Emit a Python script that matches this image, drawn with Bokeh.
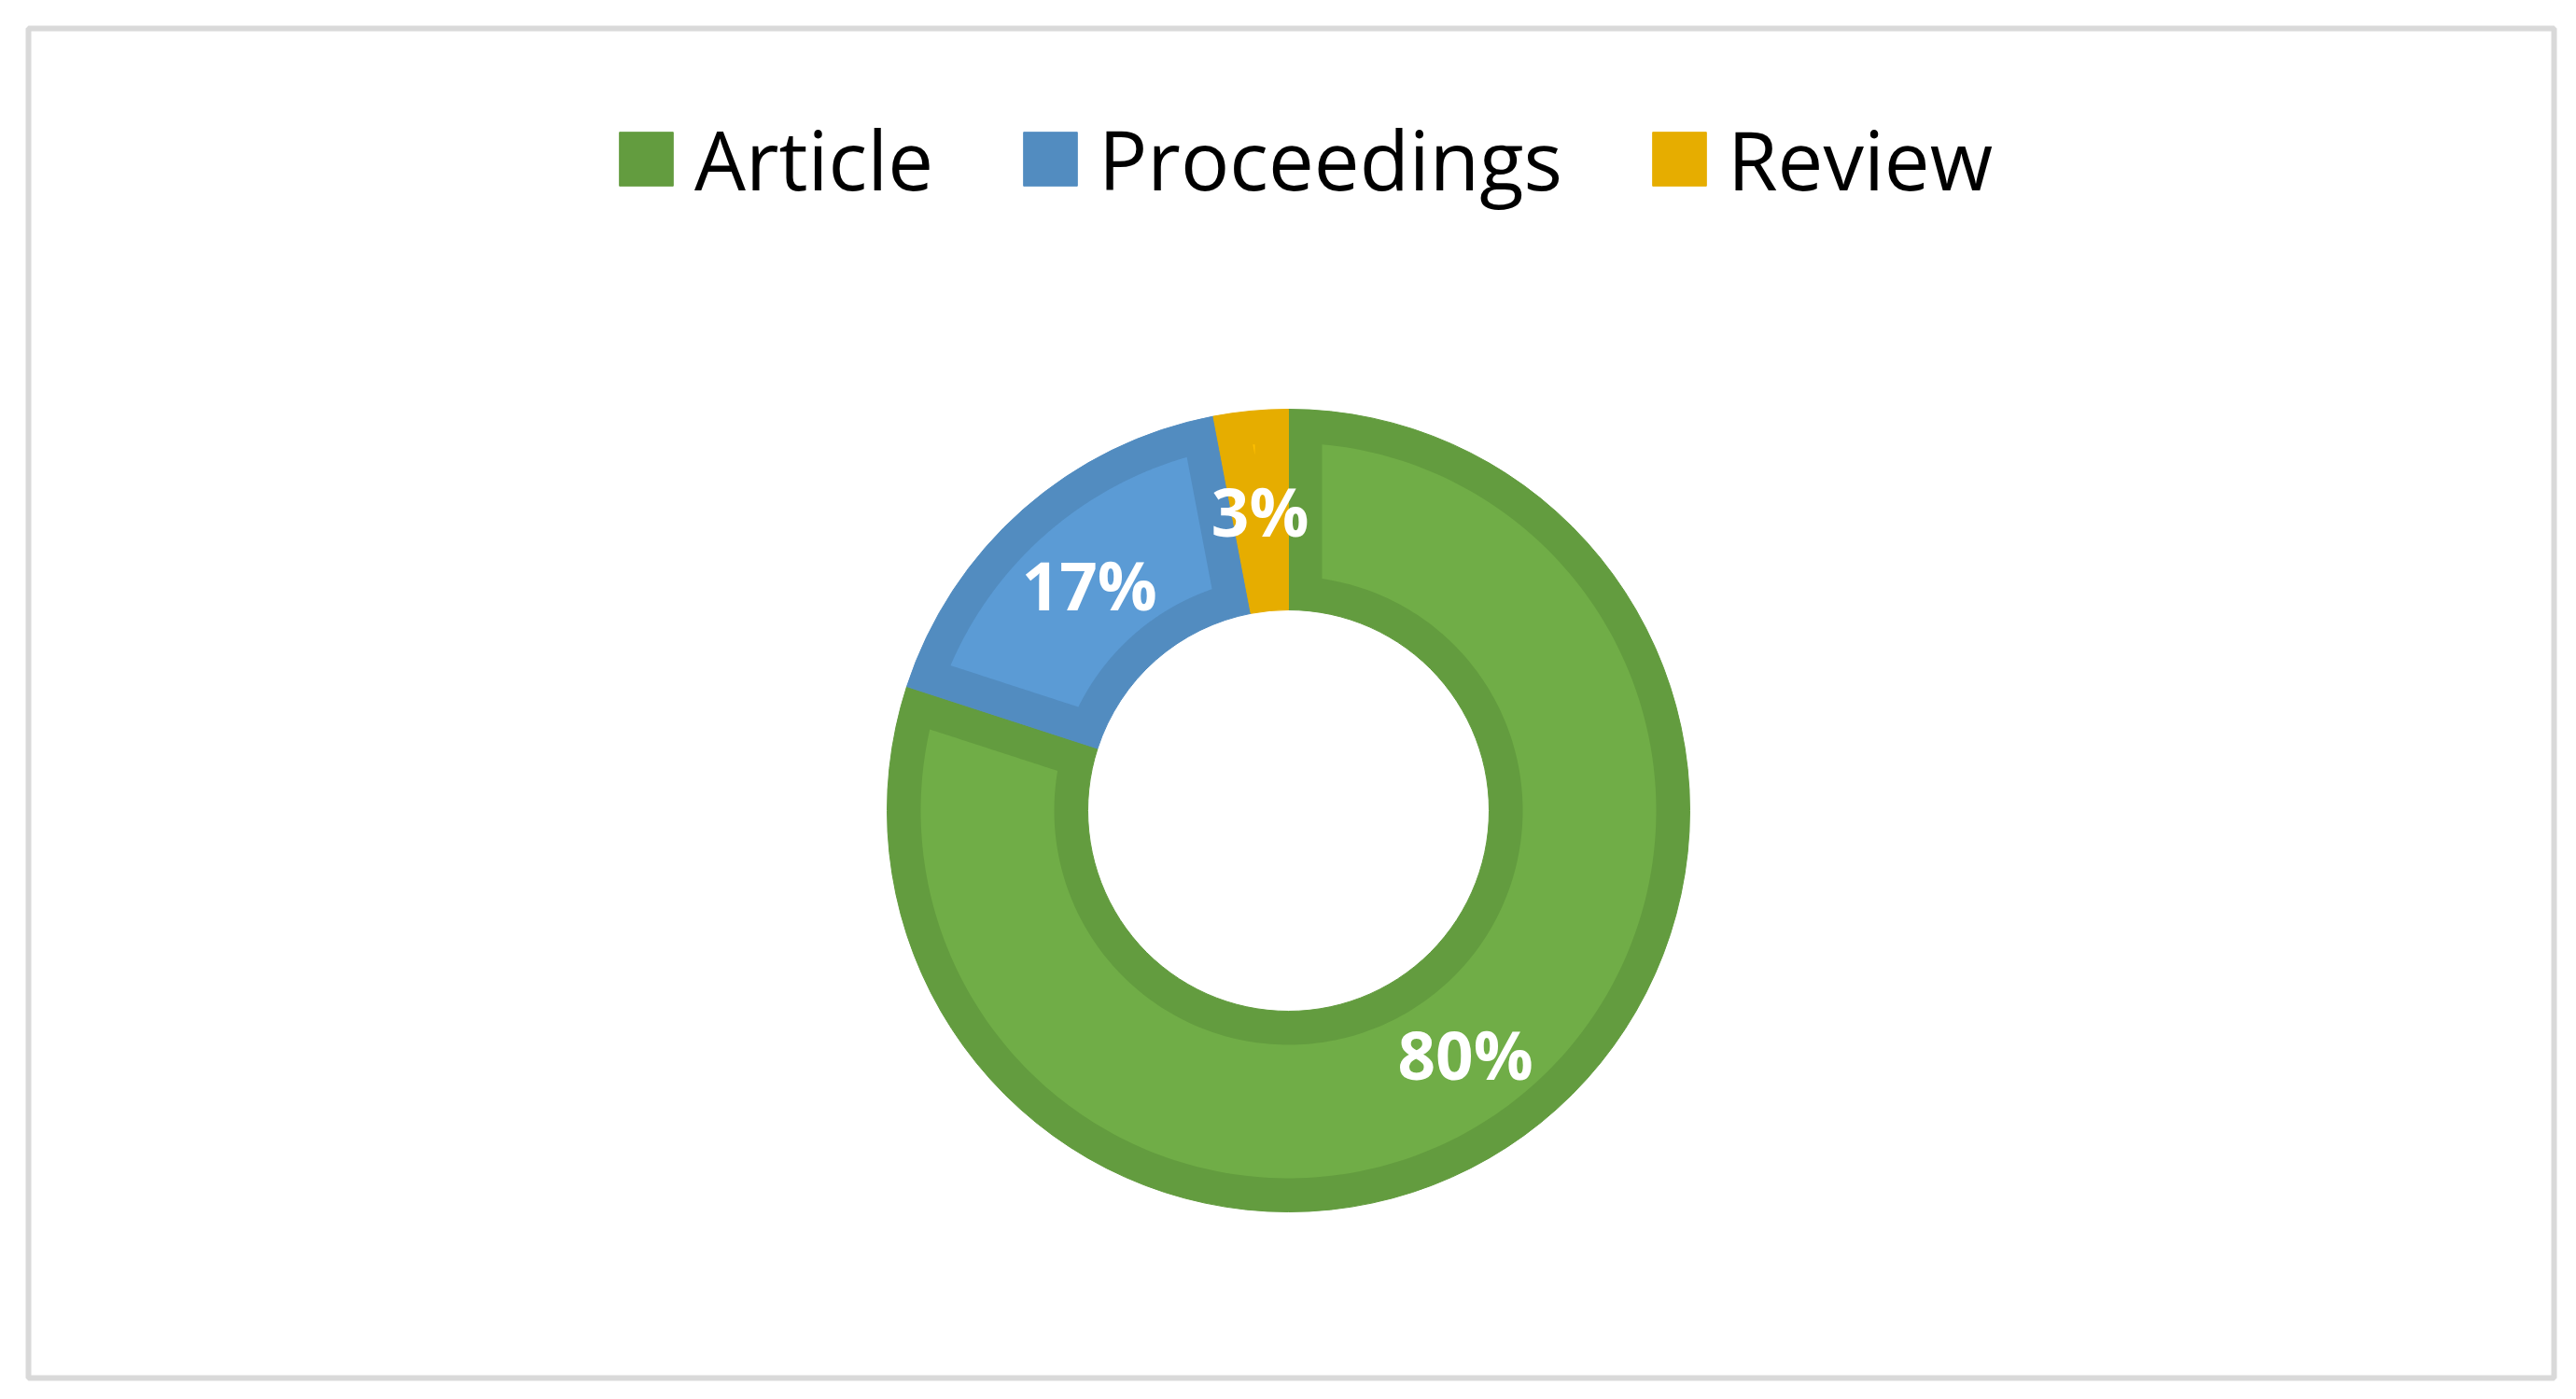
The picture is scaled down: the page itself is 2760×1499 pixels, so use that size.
import numpy as np
from bokeh.plotting import figure
from bokeh.models import Range1d, Legend, LegendItem, ColumnDataSource
from bokeh.core.properties import value
from bokeh.embed import file_html
from bokeh.resources import INLINE

# ---- data ----
categories = ["Article", "Proceedings", "Review"]
shares = [80, 17, 3]
labels = ["80%", "17%", "3%"]
fill_colors = ["#70AD47", "#5B9BD5", "#FFC000"]
edge_colors = ["#639C3F", "#528CC0", "#E6AD00"]

# ---- geometry (px, 1 data unit = 1 px) ----
R_OUT, R_IN, INSET = 430, 215, 36

total = float(sum(shares))
cum = np.cumsum([0] + shares) / total
start = np.pi / 2 - 2 * np.pi * cum[1:]   # clockwise from 12 o'clock
end = np.pi / 2 - 2 * np.pi * cum[:-1]

p = figure(width=2748, height=1486,
           x_range=Range1d(-1350, 1356), y_range=Range1d(-608, 838),
           output_backend="svg", toolbar_location=None,
           x_axis_location=None, y_axis_location=None,
           min_border_left=30, min_border_right=12,
           min_border_top=30, min_border_bottom=10)
p.grid.visible = False
p.outline_line_color = "#D9D9D9"
p.outline_line_width = 6
p.background_fill_color = "white"
p.border_fill_color = "white"

renderers = []
for i in range(len(categories)):
    r = p.annular_wedge(x=0, y=0, inner_radius=R_IN, outer_radius=R_OUT,
                        start_angle=start[i], end_angle=end[i],
                        fill_color=edge_colors[i], line_color=edge_colors[i],
                        line_width=1)
    renderers.append(r)


def inset_polygon(a0, a1, ri, ro, d, n=240):
    ro2, ri2 = ro - d, ri + d
    half = (a1 - a0) / 2
    rmin = ri2
    if half < np.pi / 2:
        rmin = max(ri2, d / np.sin(half))
    if rmin >= ro2:
        return None
    t_out = np.linspace(a0 + np.arcsin(d / ro2), a1 - np.arcsin(d / ro2), n)
    rs_down = np.linspace(ro2, rmin, 40)
    t_end = a1 - np.arcsin(d / rs_down)
    t_in = np.linspace(a1 - np.arcsin(d / rmin), a0 + np.arcsin(d / rmin), n)
    rs_up = rs_down[::-1]
    t_start = a0 + np.arcsin(d / rs_up)
    xs = np.concatenate([ro2 * np.cos(t_out), rs_down * np.cos(t_end),
                         rmin * np.cos(t_in), rs_up * np.cos(t_start)])
    ys = np.concatenate([ro2 * np.sin(t_out), rs_down * np.sin(t_end),
                         rmin * np.sin(t_in), rs_up * np.sin(t_start)])
    return xs, ys


pxs, pys, pcols = [], [], []
for i in range(len(categories)):
    res = inset_polygon(start[i], end[i], R_IN, R_OUT, INSET)
    if res is not None:
        pxs.append(list(res[0]))
        pys.append(list(res[1]))
        pcols.append(fill_colors[i])
p.patches(xs="xs", ys="ys", fill_color="c", line_color=None,
          source=ColumnDataSource(dict(xs=pxs, ys=pys, c=pcols)))

mid = (start + end) / 2
r_mid = (R_IN + R_OUT) / 2
p.text(x=list(r_mid * np.cos(mid)), y=list(r_mid * np.sin(mid)), text=labels,
       text_color="white", text_font=value("Open Sans"), text_font_style="bold",
       text_font_size="71px", text_align="center", text_baseline="middle")

legend = Legend(items=[LegendItem(label=c, renderers=[r]) for c, r in zip(categories, renderers)],
                orientation="horizontal", location=(626, 1247),
                glyph_width=72, glyph_height=72, label_standoff=16, spacing=89,
                padding=0, margin=0, border_line_color=None, background_fill_alpha=0,
                label_text_font="Open Sans", label_text_font_size="87px",
                label_text_color="#000000")
p.add_layout(legend)

open("out.html", "w").write(file_html(p, INLINE))
